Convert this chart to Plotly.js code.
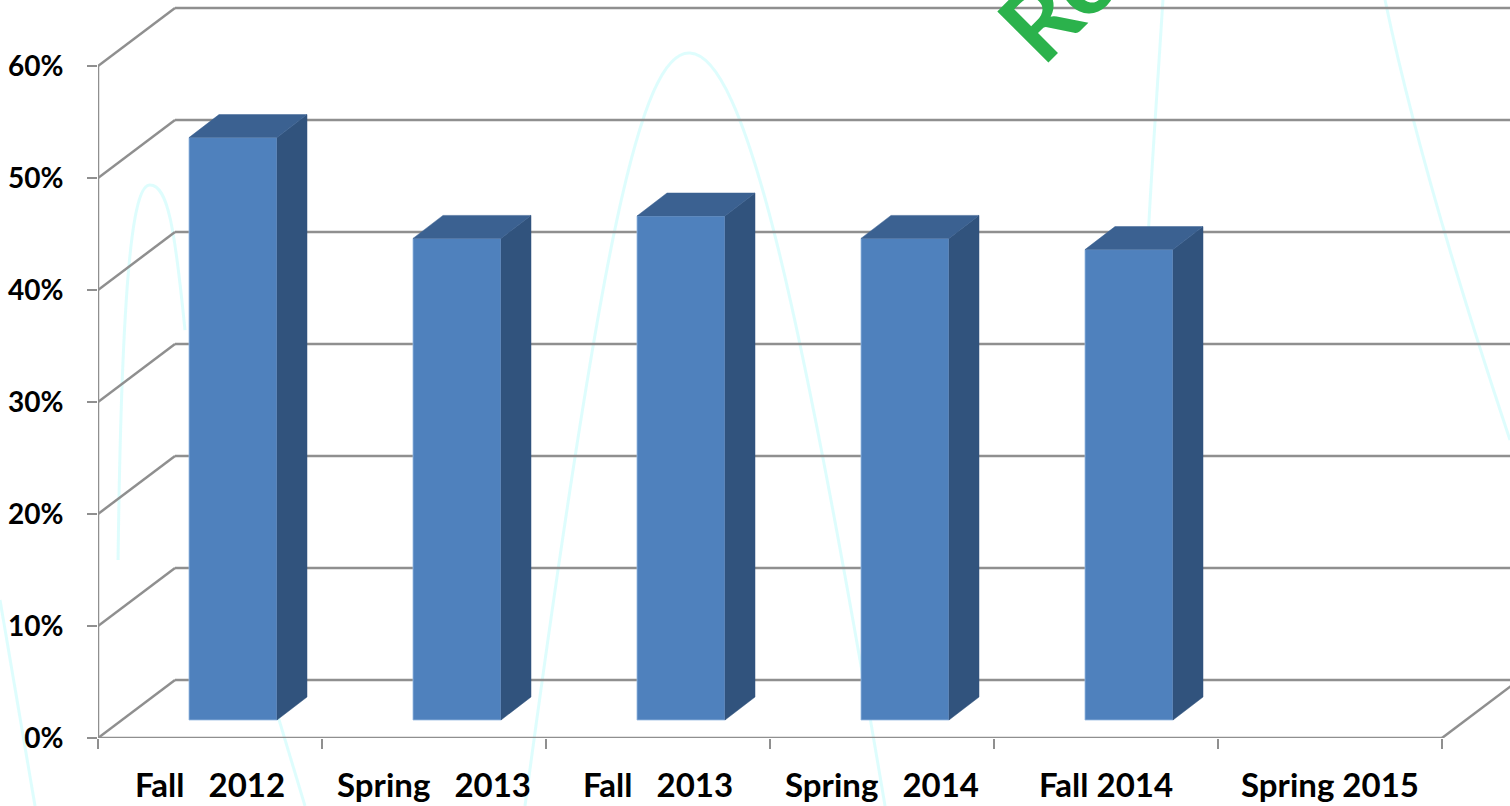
<!DOCTYPE html>
<html>
<head>
<meta charset="utf-8">
<script src="https://cdn.plot.ly/plotly-3.0.1.min.js"></script>
<style>
  html, body { margin: 0; padding: 0; background: #ffffff; }
  #chart { width: 1510px; height: 806px; }
</style>
</head>
<body>
<div id="chart"></div>
<script>
// ---- data ----
const categories = ["Fall   2012", "Spring   2013", "Fall   2013", "Spring   2014", "Fall 2014", "Spring 2015"];
const values = [0.52, 0.43, 0.45, 0.43, 0.42, null];
const yTickVals = [0, 0.1, 0.2, 0.3, 0.4, 0.5, 0.6];
const yTickText = ["0%", "10%", "20%", "30%", "40%", "50%", "60%"];

// ---- geometry (pseudo-3D, in axis units) ----
const PX_PER_CAT = 224, PX_PER_UNIT = 1120;
const PLOT_W = 1412, PLOT_H = 738;
const X_MIN = -0.5, X_MAX = -0.5 + PLOT_W / PX_PER_CAT;
const Y_MAX = PLOT_H / PX_PER_UNIT;
const WALL_DX = 77 / PX_PER_CAT, WALL_DY = 58 / PX_PER_UNIT;
const BAR_SHIFT = 23 / PX_PER_CAT, BAR_HALF = 44 / PX_PER_CAT;
const BAR_BASE = 18 / PX_PER_UNIT;
const BAR_DX = 30 / PX_PER_CAT, BAR_DY = 23 / PX_PER_UNIT;
const GRID = '#8f8f8f';

const idx = categories.map((c, i) => i);
const bounds = categories.map((c, i) => i - 0.5).concat([categories.length - 0.5]);
const catEnd = categories.length - 0.5;

// wall / floor lines as shapes beneath the bars
const shapes = [];
function seg(x0, y0, x1, y1) {
  shapes.push({type: 'line', xref: 'x', yref: 'y', x0, y0, x1, y1, layer: 'below',
               line: {color: GRID, width: 2.5}});
}
yTickVals.forEach(v => {
  seg(X_MIN, v, X_MIN + WALL_DX, v + WALL_DY);
  seg(X_MIN + WALL_DX, v + WALL_DY, X_MAX + 1, v + WALL_DY);
});
seg(X_MIN, yTickVals[0], X_MIN, yTickVals[yTickVals.length - 1]);
seg(X_MIN, 0, catEnd, 0);
seg(catEnd, 0, catEnd + WALL_DX, WALL_DY);

// decorative faint background curves (paper coords from pixel helper)
function P(px, py) { return ((px - 98) / PLOT_W).toFixed(4) + ',' + ((PLOT_H - py) / PLOT_H).toFixed(4); }
const deco = [
  'M' + P(525, 806) + ' C' + P(600, 250) + ' ' + P(640, 50) + ' ' + P(690, 53) + ' C' + P(745, 56) + ' ' + P(800, 300) + ' ' + P(885, 806),
  'M' + P(118, 560) + ' C' + P(122, 250) + ' ' + P(135, 185) + ' ' + P(150, 185) + ' C' + P(168, 185) + ' ' + P(175, 230) + ' ' + P(185, 330),
  'M' + P(1163, 0) + ' C' + P(1158, 80) + ' ' + P(1152, 160) + ' ' + P(1148, 240),
  'M' + P(1385, 0) + ' C' + P(1410, 120) + ' ' + P(1450, 260) + ' ' + P(1510, 440),
  'M' + P(255, 640) + ' L' + P(305, 806),
  'M' + P(0, 600) + ' L' + P(35, 806)
];
deco.forEach(d => shapes.push({type: 'path', xref: 'paper', yref: 'paper', path: d, layer: 'below',
  line: {color: 'rgba(205,252,252,0.65)', width: 3}}));

// side and top faces of each bar
const sideX = [], sideY = [], topX = [], topY = [];
values.forEach((v, i) => {
  if (v === null) return;
  const x0 = i + BAR_SHIFT - BAR_HALF, x1 = i + BAR_SHIFT + BAR_HALF;
  const b = BAR_BASE, t = BAR_BASE + v;
  sideX.push(x1, x1 + BAR_DX, x1 + BAR_DX, x1, x1, null);
  sideY.push(b, b + BAR_DY, t + BAR_DY, t, b, null);
  topX.push(x0, x0 + BAR_DX, x1 + BAR_DX, x1, x0, null);
  topY.push(t, t + BAR_DY, t + BAR_DY, t, t, null);
});

const traces = [
  {type: 'bar', x: idx, y: values, base: BAR_BASE, width: BAR_HALF * 2, offset: BAR_SHIFT - BAR_HALF,
   marker: {color: '#4F81BD', line: {color: 'rgba(150,185,225,0.8)', width: 1}},
   hoverinfo: 'skip', showlegend: false},
  {type: 'scatter', mode: 'lines', x: sideX, y: sideY, fill: 'toself', fillcolor: '#31537D',
   line: {color: '#31537D', width: 0.5}, hoverinfo: 'skip', showlegend: false},
  {type: 'scatter', mode: 'lines', x: topX, y: topY, fill: 'toself', fillcolor: '#3B6191',
   line: {color: '#3B6191', width: 0.5}, hoverinfo: 'skip', showlegend: false, xaxis: 'x2'}
];

const layout = {
  width: 1510, height: 806,
  margin: {l: 98, r: 0, t: 0, b: 68, pad: 0},
  paper_bgcolor: '#ffffff', plot_bgcolor: 'rgba(0,0,0,0)',
  showlegend: false,
  xaxis: {type: 'linear', range: [X_MIN, X_MAX], tickvals: bounds, showticklabels: false,
          ticks: 'outside', ticklen: 10, tickwidth: 2, tickcolor: GRID,
          showgrid: false, zeroline: false, showline: false, fixedrange: true},
  xaxis2: {type: 'linear', overlaying: 'x', anchor: 'y', side: 'bottom', range: [X_MIN, X_MAX],
           tickvals: idx, ticktext: categories.map(c => c.replace(/ /g, '\u00a0')),
           ticks: '', ticklabelstandoff: 25,
           tickfont: {family: 'Lato, "Open Sans", sans-serif', size: 33, color: '#000', weight: 'bold'},
           showgrid: false, zeroline: false, showline: false, fixedrange: true},
  yaxis: {type: 'linear', range: [0, Y_MAX], tickvals: yTickVals, ticktext: yTickText,
          ticks: 'outside', ticklen: 10, tickwidth: 2, tickcolor: GRID, ticklabelstandoff: 18,
          tickfont: {family: 'Lato, "Open Sans", sans-serif', size: 28, color: '#000', weight: 'bold'},
          showgrid: false, zeroline: false, showline: false, fixedrange: true},
  shapes: shapes,
  annotations: [{
    xref: 'paper', yref: 'paper', x: (1057 - 98) / PLOT_W, y: (PLOT_H + 1) / PLOT_H,
    xanchor: 'center', yanchor: 'middle', text: 'Ro', showarrow: false, textangle: -45,
    font: {family: 'Lato, sans-serif', size: 100, color: '#2BB24C', weight: 'bold'}
  }]
};

Plotly.newPlot('chart', traces, layout, {staticPlot: true, displayModeBar: false});
</script>
</body>
</html>
